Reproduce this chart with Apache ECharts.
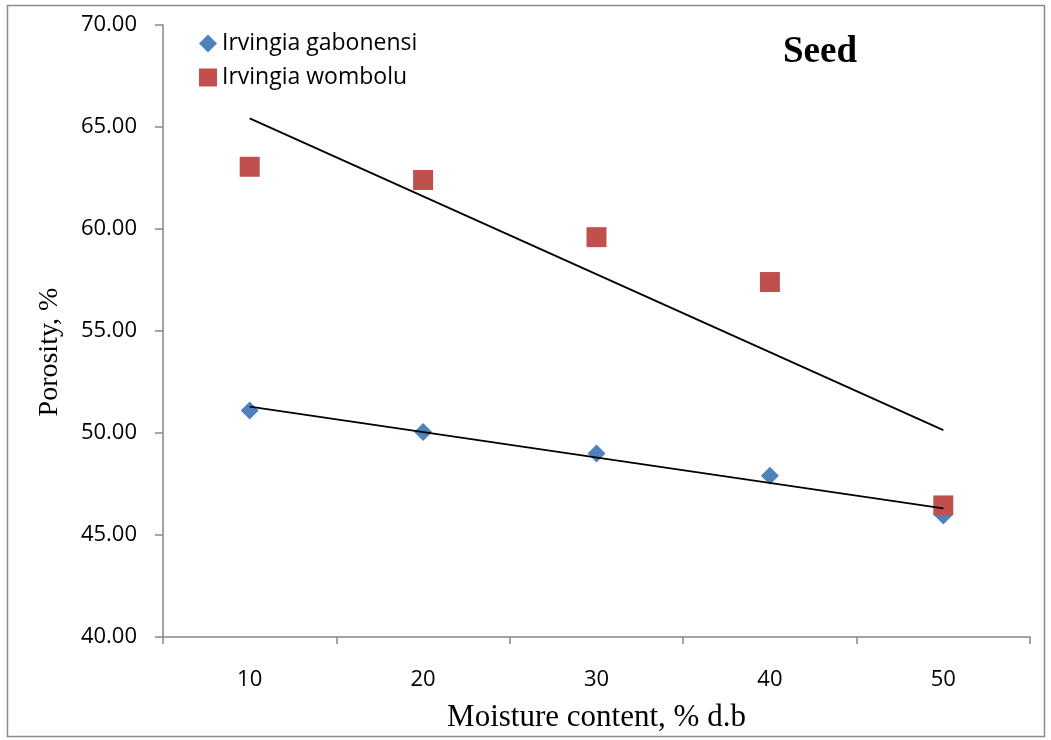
<!DOCTYPE html>
<html><head><meta charset="utf-8">
<script src="https://cdn.jsdelivr.net/npm/echarts@6/dist/echarts.min.js"></script>
<style>html,body{margin:0;padding:0;background:#fff}#c{width:1051px;height:740px}</style>
</head><body><div id="c"></div>
<script>
const categories = ['10', '20', '30', '40', '50'];
const gabonensi = [51.10, 50.05, 49.00, 47.90, 45.95];
const wombolu = [63.05, 62.40, 59.60, 57.40, 46.45];
const trendGabonensi = [51.29, 46.31];
const trendWombolu = [65.42, 50.14];
const yTicks = [40, 45, 50, 55, 60, 65, 70];

const chart = echarts.init(document.getElementById('c'), null, {renderer: 'canvas'});
const axisGray = '#868686';
const lblFont = "'Open Sans', 'Liberation Sans', sans-serif";
const serif = "'Liberation Serif', 'DejaVu Serif', serif";
chart.setOption({
  animation: false,
  backgroundColor: '#fff',
  grid: {left: 163, right: 21, top: 25, bottom: 103},
  legend: {
    left: 199, top: 32, padding: 0, orient: 'vertical', itemGap: 11, itemWidth: 18, itemHeight: 18,
    textStyle: {fontFamily: lblFont, fontSize: 23, color: '#000'},
    data: [{name: 'Irvingia gabonensi', icon: 'diamond'}, {name: 'Irvingia wombolu', icon: 'rect'}]
  },
  graphic: [
    {type: 'rect', shape: {x: 7.5, y: 5.5, width: 1037, height: 731}, style: {fill: 'none', stroke: '#8c8c8c', lineWidth: 1.5}, z: 0},
    {type: 'text', x: 820, y: 52, style: {text: 'Seed', font: "bold 37px 'Liberation Serif', serif", fill: '#000', align: 'center', verticalAlign: 'middle'}},
    {type: 'text', x: 50, y: 352, rotation: Math.PI / 2, style: {text: 'Porosity, %', font: "28px 'Liberation Serif', serif", fill: '#000', align: 'center', verticalAlign: 'middle'}}
  ],
  xAxis: {
    type: 'category', data: categories, boundaryGap: true,
    name: 'Moisture content, % d.b', nameLocation: 'middle', nameGap: 65,
    nameTextStyle: {fontFamily: serif, fontSize: 31, color: '#000'},
    axisLine: {lineStyle: {color: axisGray, width: 1.5}},
    axisTick: {show: true, length: 7, lineStyle: {color: axisGray, width: 1.5}},
    axisLabel: {fontFamily: lblFont, fontSize: 22, color: '#000', margin: 32},
    splitLine: {show: false}
  },
  yAxis: {
    type: 'value', min: yTicks[0], max: yTicks[yTicks.length-1], interval: 5,
    axisLine: {show: true, lineStyle: {color: axisGray, width: 1.5}},
    axisTick: {show: true, length: 8, lineStyle: {color: axisGray, width: 1.5}},
    axisLabel: {fontFamily: lblFont, fontSize: 22, color: '#000', margin: 26, formatter: v => v.toFixed(2)},
    splitLine: {show: false}
  },
  series: [
    {name: 'Irvingia gabonensi', type: 'scatter', symbol: 'diamond', symbolSize: 18,
     itemStyle: {color: '#4F81BD', opacity: 1}, data: gabonensi, z: 2},
    {name: 'Irvingia wombolu', type: 'scatter', symbol: 'rect', symbolSize: 20,
     itemStyle: {color: '#C0504D', opacity: 1}, data: wombolu, z: 3},
    {type: 'line', symbol: 'none', lineStyle: {color: '#000', width: 1.8}, z: 5, silent: true,
     data: [[categories[0], trendGabonensi[0]], [categories[4], trendGabonensi[1]]]},
    {type: 'line', symbol: 'none', lineStyle: {color: '#000', width: 1.8}, z: 5, silent: true,
     data: [[categories[0], trendWombolu[0]], [categories[4], trendWombolu[1]]]}
  ]
});
</script></body></html>
